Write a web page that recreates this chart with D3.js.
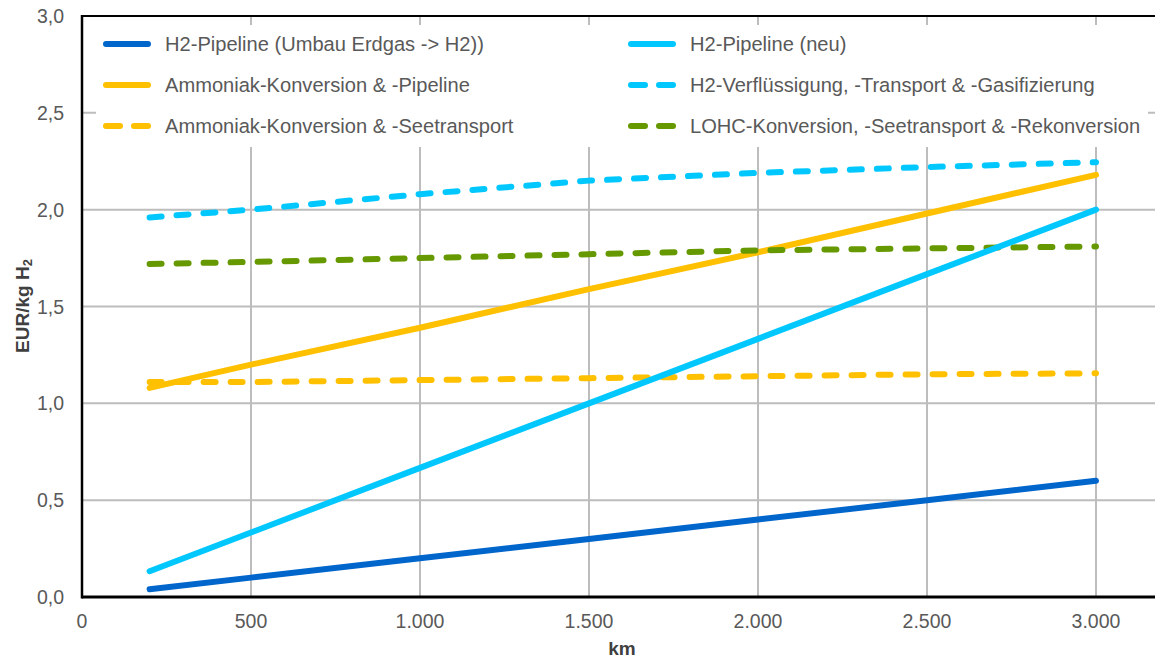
<!DOCTYPE html>
<html><head><meta charset="utf-8">
<script src="https://cdn.jsdelivr.net/npm/d3@7"></script>
<style>body{margin:0;background:#fff}svg{display:block}text{font-family:"Liberation Sans",Arial,sans-serif}</style>
</head><body><svg id="c" width="1155" height="660"></svg>
<script>
const km = [200, 500, 1000, 1500, 2000, 2500, 3000];
const seriesNames = [
  "H2-Pipeline (Umbau Erdgas -> H2))",
  "H2-Pipeline (neu)",
  "Ammoniak-Konversion & -Pipeline",
  "H2-Verflüssigung, -Transport & -Gasifizierung",
  "Ammoniak-Konversion & -Seetransport",
  "LOHC-Konversion, -Seetransport & -Rekonversion"
];
const umbau = [0.04, 0.10, 0.20, 0.30, 0.40, 0.50, 0.60];
const neu = [0.133, 0.333, 0.667, 1.00, 1.333, 1.667, 2.00];
const ammoniakPipe = [1.08, 1.20, 1.39, 1.59, 1.78, 1.98, 2.18];
const verfluessigung = [1.96, 2.00, 2.08, 2.15, 2.19, 2.22, 2.245];
const ammoniakSee = [1.11, 1.11, 1.12, 1.13, 1.14, 1.15, 1.155];
const lohc = [1.72, 1.73, 1.75, 1.77, 1.79, 1.80, 1.81];
const xTicks = [0, 500, 1000, 1500, 2000, 2500, 3000];
const xTickLabels = ["0", "500", "1.000", "1.500", "2.000", "2.500", "3.000"];
const yTicks = [0, 0.5, 1.0, 1.5, 2.0, 2.5, 3.0];
const yTickLabels = ["0,0", "0,5", "1,0", "1,5", "2,0", "2,5", "3,0"];
const colors = ["#0066CC", "#00C8FF", "#FFC000", "#00C8FF", "#FFC000", "#669900"];
const dashed = [false, false, false, true, true, true];
const values = [umbau, neu, ammoniakPipe, verfluessigung, ammoniakSee, lohc];

const svg = d3.select("#c");
const x = d3.scaleLinear().domain([0, 3000]).range([82, 1096]);
const y = d3.scaleLinear().domain([0, 3]).range([597, 16]);
const pLeft = 82, pRight = 1160, pTop = 16, pBottom = 597;

// grid
const g = svg.append("g");
g.selectAll(".vg").data(xTicks.slice(1)).join("line")
  .attr("x1", d => x(d)).attr("x2", d => x(d)).attr("y1", pTop).attr("y2", pBottom)
  .attr("stroke", "#BDBDBD").attr("stroke-width", 2);
g.selectAll(".hg").data(yTicks.slice(1, -1)).join("line")
  .attr("x1", pLeft).attr("x2", pRight).attr("y1", d => y(d)).attr("y2", d => y(d))
  .attr("stroke", "#BDBDBD").attr("stroke-width", 2);

// lines
const line = d3.line().x((d, i) => x(km[i])).y(d => y(d));
const order = [0, 4, 2, 5, 1, 3];
order.forEach(s => {
  svg.append("path").datum(values[s]).attr("d", line)
    .attr("fill", "none").attr("stroke", colors[s]).attr("stroke-width", 6)
    .attr("stroke-linecap", "round").attr("stroke-linejoin", "round")
    .attr("stroke-dasharray", dashed[s] ? "12,15" : null);
});

// frame
svg.append("line").attr("x1", pLeft).attr("x2", pRight).attr("y1", pTop).attr("y2", pTop)
  .attr("stroke", "#000").attr("stroke-width", 2);
svg.append("line").attr("x1", pLeft).attr("x2", pRight).attr("y1", pBottom).attr("y2", pBottom)
  .attr("stroke", "#000").attr("stroke-width", 3);
svg.append("line").attr("x1", pLeft).attr("x2", pLeft).attr("y1", pTop - 1).attr("y2", pBottom + 1.5)
  .attr("stroke", "#000").attr("stroke-width", 2.5);

// legend background
svg.append("rect").attr("x", 96).attr("y", 25).attr("width", 1052).attr("height", 122).attr("fill", "#fff");
const legPos = [[103, 44], [628, 44], [103, 85], [628, 85], [103, 126], [628, 126]];
seriesNames.forEach((name, i) => {
  const [lx, ly] = legPos[i];
  svg.append("line").attr("x1", lx + 3).attr("x2", lx + 45).attr("y1", ly).attr("y2", ly)
    .attr("stroke", colors[i]).attr("stroke-width", 6).attr("stroke-linecap", "round")
    .attr("stroke-dasharray", dashed[i] ? "14,14" : null);
  svg.append("text").attr("x", lx + 62).attr("y", ly + 7).attr("font-size", 20.1)
    .attr("fill", "#595959").text(name);
});

// axis labels
svg.selectAll(".yl").data(yTicks).join("text")
  .attr("x", 64).attr("y", d => y(d) + 7).attr("text-anchor", "end")
  .attr("font-size", 19.5).attr("fill", "#595959").text((d, i) => yTickLabels[i]);
svg.selectAll(".xl").data(xTicks).join("text")
  .attr("x", d => x(d)).attr("y", 628).attr("text-anchor", "middle")
  .attr("font-size", 19.5).attr("fill", "#595959").text((d, i) => xTickLabels[i]);
svg.append("text").attr("x", 622).attr("y", 655).attr("text-anchor", "middle")
  .attr("font-size", 19).attr("font-weight", "bold").attr("fill", "#404040").text("km");
const yt = svg.append("text").attr("transform", "translate(29,306) rotate(-90)")
  .attr("text-anchor", "middle").attr("font-size", 19).attr("font-weight", "bold").attr("fill", "#404040");
yt.append("tspan").text("EUR/kg H");
yt.append("tspan").attr("font-size", 13).attr("dy", 3).text("2");
</script></body></html>
